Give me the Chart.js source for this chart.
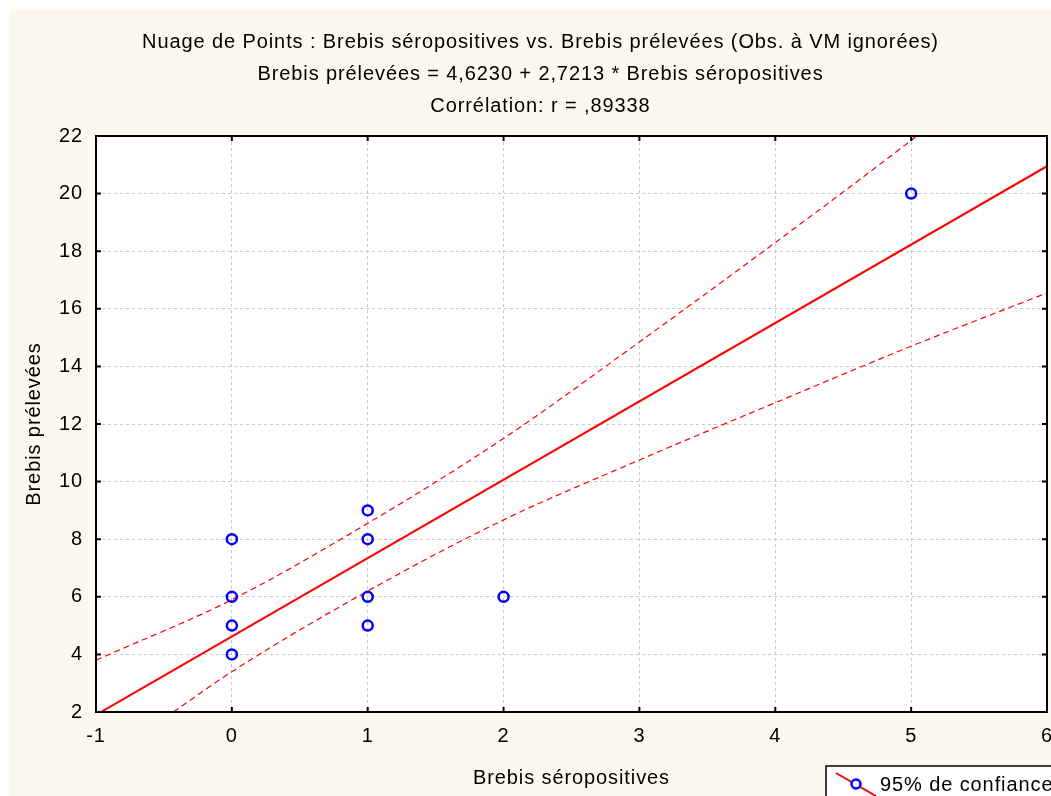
<!DOCTYPE html>
<html>
<head>
<meta charset="utf-8">
<script src="https://cdn.jsdelivr.net/npm/chart.js@4.4.1/dist/chart.umd.min.js"></script>
<style>
html,body{margin:0;padding:0;background:#fff;}
#wrap{width:1051px;height:796px;position:relative;}
</style>
</head>
<body>
<div id="wrap"><canvas id="c" width="1051" height="796"></canvas></div>
<script>
// ---- data ----
const seroX = [0, 0, 0, 0, 1, 1, 1, 1, 2, 5];
const prelY = [8, 6, 5, 4, 9, 8, 6, 5, 6, 20];

// regression line: Brebis prélevées = 4,6230 + 2,7213 * Brebis séropositives (end points)
const regX = [-1, 6];
const regY = [1.90, 20.95];

// 95% confidence band
const upperX = [-1, 0, 1, 2, 3, 4, 5, 5.04];
const upperY = [3.8, 5.9, 8.55, 11.5, 14.85, 18.3, 21.85, 22];
const lowerX = [-0.43, 0, 1, 2, 3, 4, 5, 6];
const lowerY = [2, 3.4, 6.2, 8.67, 10.75, 12.74, 14.7, 16.55];

const xTicks = [-1, 0, 1, 2, 3, 4, 5, 6];
const yTicks = [2, 4, 6, 8, 10, 12, 14, 16, 18, 20, 22];

const titleLines = [
  "Nuage de Points : Brebis séropositives vs. Brebis prélevées (Obs. à VM ignorées)",
  "Brebis prélevées = 4,6230 + 2,7213 * Brebis séropositives",
  "Corrélation: r = ,89338"
];
const xTitle = "Brebis séropositives";
const yTitle = "Brebis prélevées";
const legendLabel = "95% de confiance";

const FONT = "'Liberation Sans', Arial, Helvetica, sans-serif";
const zip = (xs, ys) => xs.map((x, i) => ({x: x, y: ys[i]}));
const SPACING = '0.9px';
const PLOT_RIGHT = 1047;

const framePlugin = {
  id: 'frame',
  beforeLayout(chart) {
    try { chart.ctx.letterSpacing = SPACING; } catch (e) {}
  },
  afterLayout(chart) {
    const a = chart.chartArea, xs = chart.scales.x;
    const d = PLOT_RIGHT - a.right;
    if (d !== 0) {
      a.right += d; a.width += d;
      xs.right += d; xs.width += d;
      xs.configure();
    }
  },
  beforeDraw(chart) {
    const ctx = chart.ctx, a = chart.chartArea;
    try { ctx.letterSpacing = SPACING; } catch (e) {}
    ctx.save();
    ctx.fillStyle = '#ffffff';
    ctx.fillRect(0, 0, chart.width, chart.height);
    ctx.fillStyle = '#fcf8ee';
    ctx.fillRect(9, 9, chart.width - 9, chart.height - 9);
    ctx.fillStyle = '#ffffff';
    ctx.fillRect(a.left, a.top, a.right - a.left, a.bottom - a.top);
    ctx.restore();
  },
  afterDraw(chart) {
    const ctx = chart.ctx, a = chart.chartArea;
    const xs = chart.scales.x, ys = chart.scales.y;
    ctx.save();
    ctx.strokeStyle = '#000';
    ctx.lineWidth = 2;
    ctx.strokeRect(a.left, a.top, a.right - a.left, a.bottom - a.top);
    ctx.beginPath();
    xTicks.forEach(v => {
      const px = xs.getPixelForValue(v);
      ctx.moveTo(px, a.bottom); ctx.lineTo(px, a.bottom - 5);
      ctx.moveTo(px, a.top); ctx.lineTo(px, a.top + 5);
    });
    yTicks.forEach(v => {
      const py = ys.getPixelForValue(v);
      ctx.moveTo(a.left, py); ctx.lineTo(a.left + 5, py);
      ctx.moveTo(a.right, py); ctx.lineTo(a.right - 5, py);
    });
    ctx.stroke();

    // legend box
    const lx = 826, ly = 766;
    ctx.fillStyle = '#ffffff';
    ctx.fillRect(lx, ly, chart.width - lx + 5, chart.height - ly + 5);
    ctx.strokeStyle = '#000';
    ctx.lineWidth = 1.5;
    ctx.strokeRect(lx, ly, chart.width - lx + 5, chart.height - ly + 5);
    ctx.strokeStyle = '#ff0000';
    ctx.lineWidth = 2;
    ctx.beginPath(); ctx.moveTo(836, 773); ctx.lineTo(876, 796); ctx.stroke();
    ctx.strokeStyle = '#0000ff';
    ctx.lineWidth = 2.5;
    ctx.fillStyle = '#ffffff';
    ctx.beginPath(); ctx.arc(856, 784, 4.5, 0, Math.PI * 2); ctx.fill(); ctx.stroke();
    ctx.fillStyle = '#000';
    ctx.font = "20px " + FONT;
    ctx.textBaseline = 'middle';
    ctx.textAlign = 'left';
    ctx.fillText(legendLabel, 880, 785);
    ctx.restore();
  }
};

new Chart(document.getElementById('c'), {
  type: 'scatter',
  data: {
    datasets: [
      {
        label: 'Observations',
        data: zip(seroX, prelY),
        showLine: false,
        pointStyle: 'circle',
        pointRadius: 5,
        pointHoverRadius: 5,
        borderColor: '#0000ff',
        backgroundColor: 'rgba(255,255,255,0)',
        borderWidth: 2.5,
        order: 0
      },
      {
        label: 'Régression',
        data: zip(regX, regY),
        showLine: true,
        pointRadius: 0,
        borderColor: '#ff0000',
        borderWidth: 2,
        order: 1
      },
      {
        label: '95% sup',
        data: zip(upperX, upperY),
        showLine: true,
        pointRadius: 0,
        borderColor: '#ff0000',
        borderWidth: 1.2,
        borderDash: [6, 4],
        cubicInterpolationMode: 'monotone',
        order: 2
      },
      {
        label: '95% inf',
        data: zip(lowerX, lowerY),
        showLine: true,
        pointRadius: 0,
        borderColor: '#ff0000',
        borderWidth: 1.2,
        borderDash: [6, 4],
        cubicInterpolationMode: 'monotone',
        order: 2
      }
    ]
  },
  plugins: [framePlugin],
  options: {
    responsive: false,
    animation: false,
    events: [],
    layout: { padding: { left: 30, right: 0, top: 0, bottom: 0 } },
    plugins: {
      legend: { display: false },
      tooltip: { enabled: false },
      title: {
        display: true,
        text: titleLines,
        color: '#000',
        font: { family: FONT, size: 20, weight: 'normal', lineHeight: 1.6 },
        padding: { top: 26, bottom: 14 }
      }
    },
    scales: {
      x: {
        type: 'linear',
        min: -1, max: 6,
        afterBuildTicks(scale) { scale.ticks = xTicks.map(v => ({value: v})); },
        afterFit(scale) { scale.height = 84; scale.paddingRight = 4; scale.paddingLeft = 0; },
        ticks: {
          color: '#000',
          font: { family: FONT, size: 20 },
          padding: 12,
          maxRotation: 0,
          callback: v => String(v)
        },
        grid: { color: '#c8c8c8', lineWidth: 1, drawTicks: false },
        border: { display: false, dash: [3, 3] },
        title: {
          display: true, text: xTitle, color: '#000',
          font: { family: FONT, size: 20 },
          padding: { top: 0, bottom: 6 }
        }
      },
      y: {
        type: 'linear',
        min: 2, max: 22,
        afterBuildTicks(scale) { scale.ticks = yTicks.map(v => ({value: v})); },
        afterFit(scale) { scale.width = 66; scale.paddingTop = 0; scale.paddingBottom = 0; },
        ticks: {
          color: '#000',
          font: { family: FONT, size: 20 },
          padding: 13,
          callback: v => String(v)
        },
        grid: { color: '#c8c8c8', lineWidth: 1, drawTicks: false },
        border: { display: false, dash: [3, 3] },
        title: {
          display: true, text: yTitle, color: '#000',
          font: { family: FONT, size: 20 },
          padding: { top: -8, bottom: 0 }
        }
      }
    }
  }
});
</script>
</body>
</html>
